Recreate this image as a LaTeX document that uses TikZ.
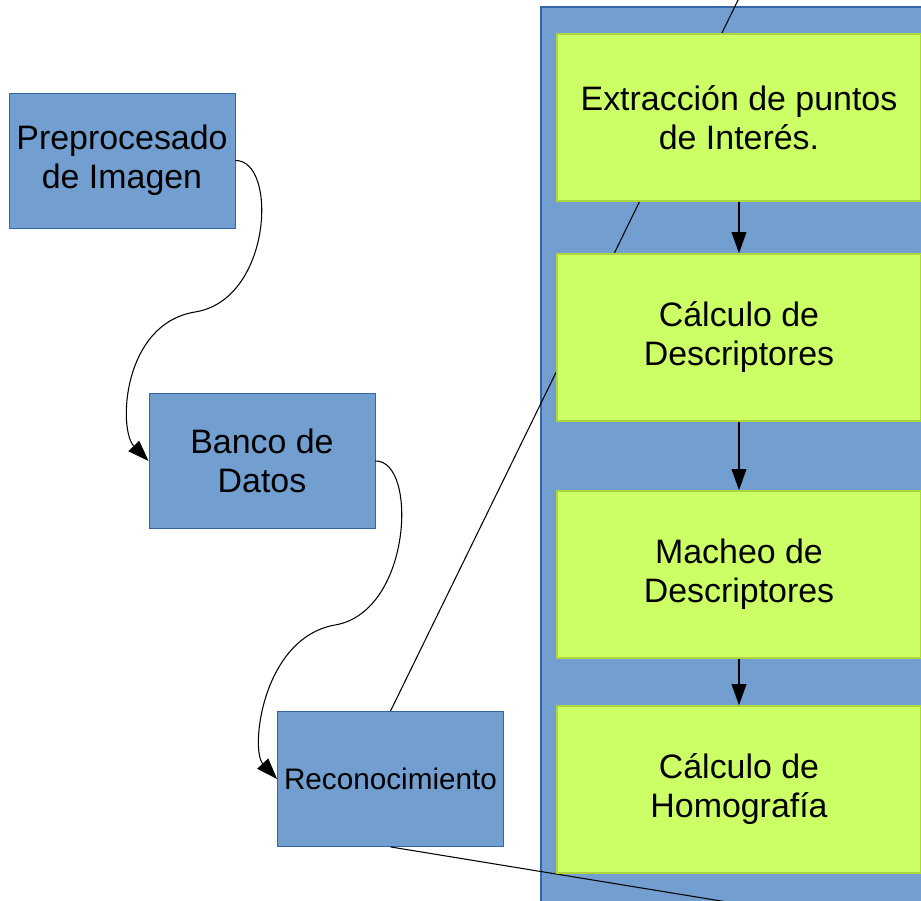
\documentclass[tikz,border=0pt]{standalone}
\usepackage{fontspec}
\setmainfont{Liberation Sans}
\usetikzlibrary{arrows.meta}

\definecolor{boxblue}{HTML}{729FCF}
\definecolor{lineblue}{HTML}{3465A4}
\definecolor{boxgreen}{RGB}{204,255,102}
\definecolor{linegreen}{RGB}{172,214,60}

\begin{document}
\begin{tikzpicture}[x=0.02cm, y=-0.02cm,
    stage/.style={draw=lineblue, fill=boxblue, line width=0.5pt, inner sep=0pt,
      minimum width=4.52cm, minimum height=2.7cm, align=center,
      font=\fontsize{19.3}{22.2}\selectfont},
    task/.style={draw=linegreen, fill=boxgreen, line width=1pt, inner sep=0pt,
      minimum width=7.28cm, minimum height=3.34cm, align=center,
      font=\fontsize{19.3}{22.2}\selectfont},
    flow/.style={-{Triangle[width=8.5pt, length=12pt]}, line width=0.6pt},
    link/.style={line width=0.6pt}]
      \useasboundingbox (0,0) rectangle (921,901);
      \clip (0,0) rectangle (921,901);

      % draw the big blue background box
      \filldraw[draw=lineblue, fill=boxblue, line width=0.6pt] (541,7) rectangle (940,920);

      % draw the three stages on the left
      \node[stage] (pre) at (122,160.5) {Preprocesado\\de Imagen};
      \node[stage] (bank) at (262,461) {Banco de\\Datos};
      \node[stage, font=\fontsize{16.9}{20}\selectfont] (reco) at (390.5,779) {Reconocimiento};

      % draw the curved arrows between the stages
      \draw[flow] (pre.east) .. controls (278,160) and (272,300) .. (195,312)
        .. controls (122,324) and (118,430) .. (bank.west);
      \draw[flow] (bank.east) .. controls (418,460) and (412,612) .. (335,625)
        .. controls (262,638) and (250,750) .. (reco.west);

      % draw the zoom lines
      \coordinate (zoomtop) at (741,-6);
      \coordinate (zoombot) at (935,936);
      \draw[link] (reco.north) -- (zoomtop);
      \draw[link] (reco.south) -- (zoombot);

      % draw the steps inside the big box
      \node[task] (ext) at (739,117.5) {Extracción de puntos\\de Interés.};
      \node[task] (desc) at (739,337.5) {Cálculo de\\Descriptores};
      \node[task] (match) at (739,574.5) {Macheo de\\Descriptores};
      \node[task] (homo) at (739,789.5) {Cálculo de\\Homografía};

      \draw[flow] (ext) -- (desc);
      \draw[flow] (desc) -- (match);
      \draw[flow] (match) -- (homo);
    \end{tikzpicture}
\end{document}
